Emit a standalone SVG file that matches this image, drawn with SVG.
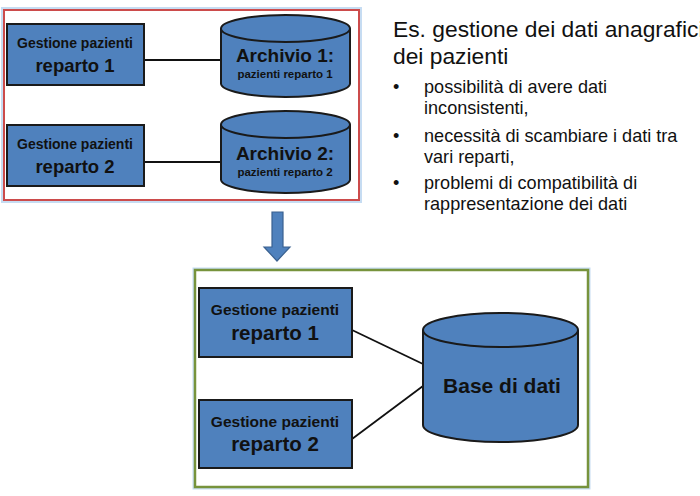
<svg xmlns="http://www.w3.org/2000/svg" width="700" height="496" viewBox="0 0 700 496">
<defs>
<style>
.box{fill:#4f81bd;stroke:#1a1a1a;stroke-width:2}
.cyl{fill:#4f81bd;stroke:#1a1a1a;stroke-width:2}
.t{font-family:"Liberation Sans",Arial,sans-serif;font-weight:bold;fill:#111;text-anchor:middle}
.r{font-family:"Liberation Sans",Arial,sans-serif;fill:#111}
.con{stroke:#111;stroke-width:1.8;fill:none}
</style>
</defs>
<rect width="700" height="496" fill="#fff"/>
<!-- frames -->
<rect x="3.5" y="9.5" width="356" height="191" fill="#fff" stroke="#c6dcf2" stroke-width="5"/>
<rect x="4" y="10" width="355" height="190" fill="#fff" stroke="#cc4b4b" stroke-width="2"/>
<rect x="195" y="270" width="393" height="217" fill="#fff" stroke="#c6dcf2" stroke-width="5"/>
<rect x="195" y="270" width="393" height="217" fill="#fff" stroke="#77933c" stroke-width="2.5"/>
<!-- connectors -->
<g id="connectors">
<line class="con" x1="144" y1="60" x2="221" y2="60"/>
<line class="con" x1="144" y1="162" x2="221" y2="162"/>
<line class="con" x1="352" y1="330" x2="423" y2="364"/>
<line class="con" x1="352" y1="439" x2="423" y2="386"/>
</g>
<!-- top left -->
<g id="gp1">
<rect class="box" x="7" y="24" width="137" height="61"/>
<text class="t" x="75" y="48" font-size="14">Gestione pazienti</text>
<text class="t" x="75" y="72" font-size="18.5">reparto 1</text>
</g>
<g id="gp2">
<rect class="box" x="7" y="125" width="137" height="61"/>
<text class="t" x="75" y="149" font-size="14">Gestione pazienti</text>
<text class="t" x="75" y="173" font-size="18.5">reparto 2</text>
</g>
<g id="arch1">
<path class="cyl" d="M221,28.5 V83.5 A64.5,13.5 0 0 0 350,83.5 V28.5"/>
<ellipse class="cyl" cx="285.5" cy="28.5" rx="64.5" ry="13.5"/>
<text class="t" x="285" y="62" font-size="19">Archivio 1:</text>
<text class="t" x="285" y="78" font-size="11.5">pazienti reparto 1</text>
</g>
<g id="arch2">
<path class="cyl" d="M221,124.5 V179.5 A64.5,13.5 0 0 0 350,179.5 V124.5"/>
<ellipse class="cyl" cx="285.5" cy="124.5" rx="64.5" ry="13.5"/>
<text class="t" x="285" y="160" font-size="19">Archivio 2:</text>
<text class="t" x="285" y="176" font-size="11.5">pazienti reparto 2</text>
</g>
<!-- arrow -->
<g id="arrow">
<path d="M272,212 H283 V247 H290 L277,261 L264,247 H272 Z" fill="#4f81bd" stroke="#3a6190" stroke-width="1.2"/>
</g>
<!-- bottom -->
<g id="gp1b">
<rect class="box" x="199" y="288" width="153" height="69"/>
<text class="t" x="275" y="315" font-size="15.5">Gestione pazienti</text>
<text class="t" x="275" y="340" font-size="20.5">reparto 1</text>
</g>
<g id="gp2b">
<rect class="box" x="199" y="400" width="153" height="68"/>
<text class="t" x="275" y="427" font-size="15.5">Gestione pazienti</text>
<text class="t" x="275" y="451" font-size="20.5">reparto 2</text>
</g>
<g id="db">
<path class="cyl" d="M423,330 V425 A77.5,17 0 0 0 578,425 V330"/>
<ellipse class="cyl" cx="500.5" cy="330" rx="77.5" ry="17"/>
<text class="t" x="502" y="393" font-size="21">Base di dati</text>
</g>
<!-- right text -->
<g id="notes">
<text class="r" x="393" y="37" font-size="22.8">Es. gestione dei dati anagrafici</text>
<text class="r" x="393" y="64" font-size="22.8">dei pazienti</text>
<g font-size="18.1">
<text class="r" x="393" y="93">•</text>
<text class="r" x="424" y="93">possibilità di avere dati</text>
<text class="r" x="424" y="114">inconsistenti,</text>
<text class="r" x="393" y="142">•</text>
<text class="r" x="424" y="142">necessità di scambiare i dati tra</text>
<text class="r" x="424" y="163">vari reparti,</text>
<text class="r" x="393" y="189">•</text>
<text class="r" x="424" y="189">problemi di compatibilità di</text>
<text class="r" x="424" y="210">rappresentazione dei dati</text>
</g>
</g>
</svg>
